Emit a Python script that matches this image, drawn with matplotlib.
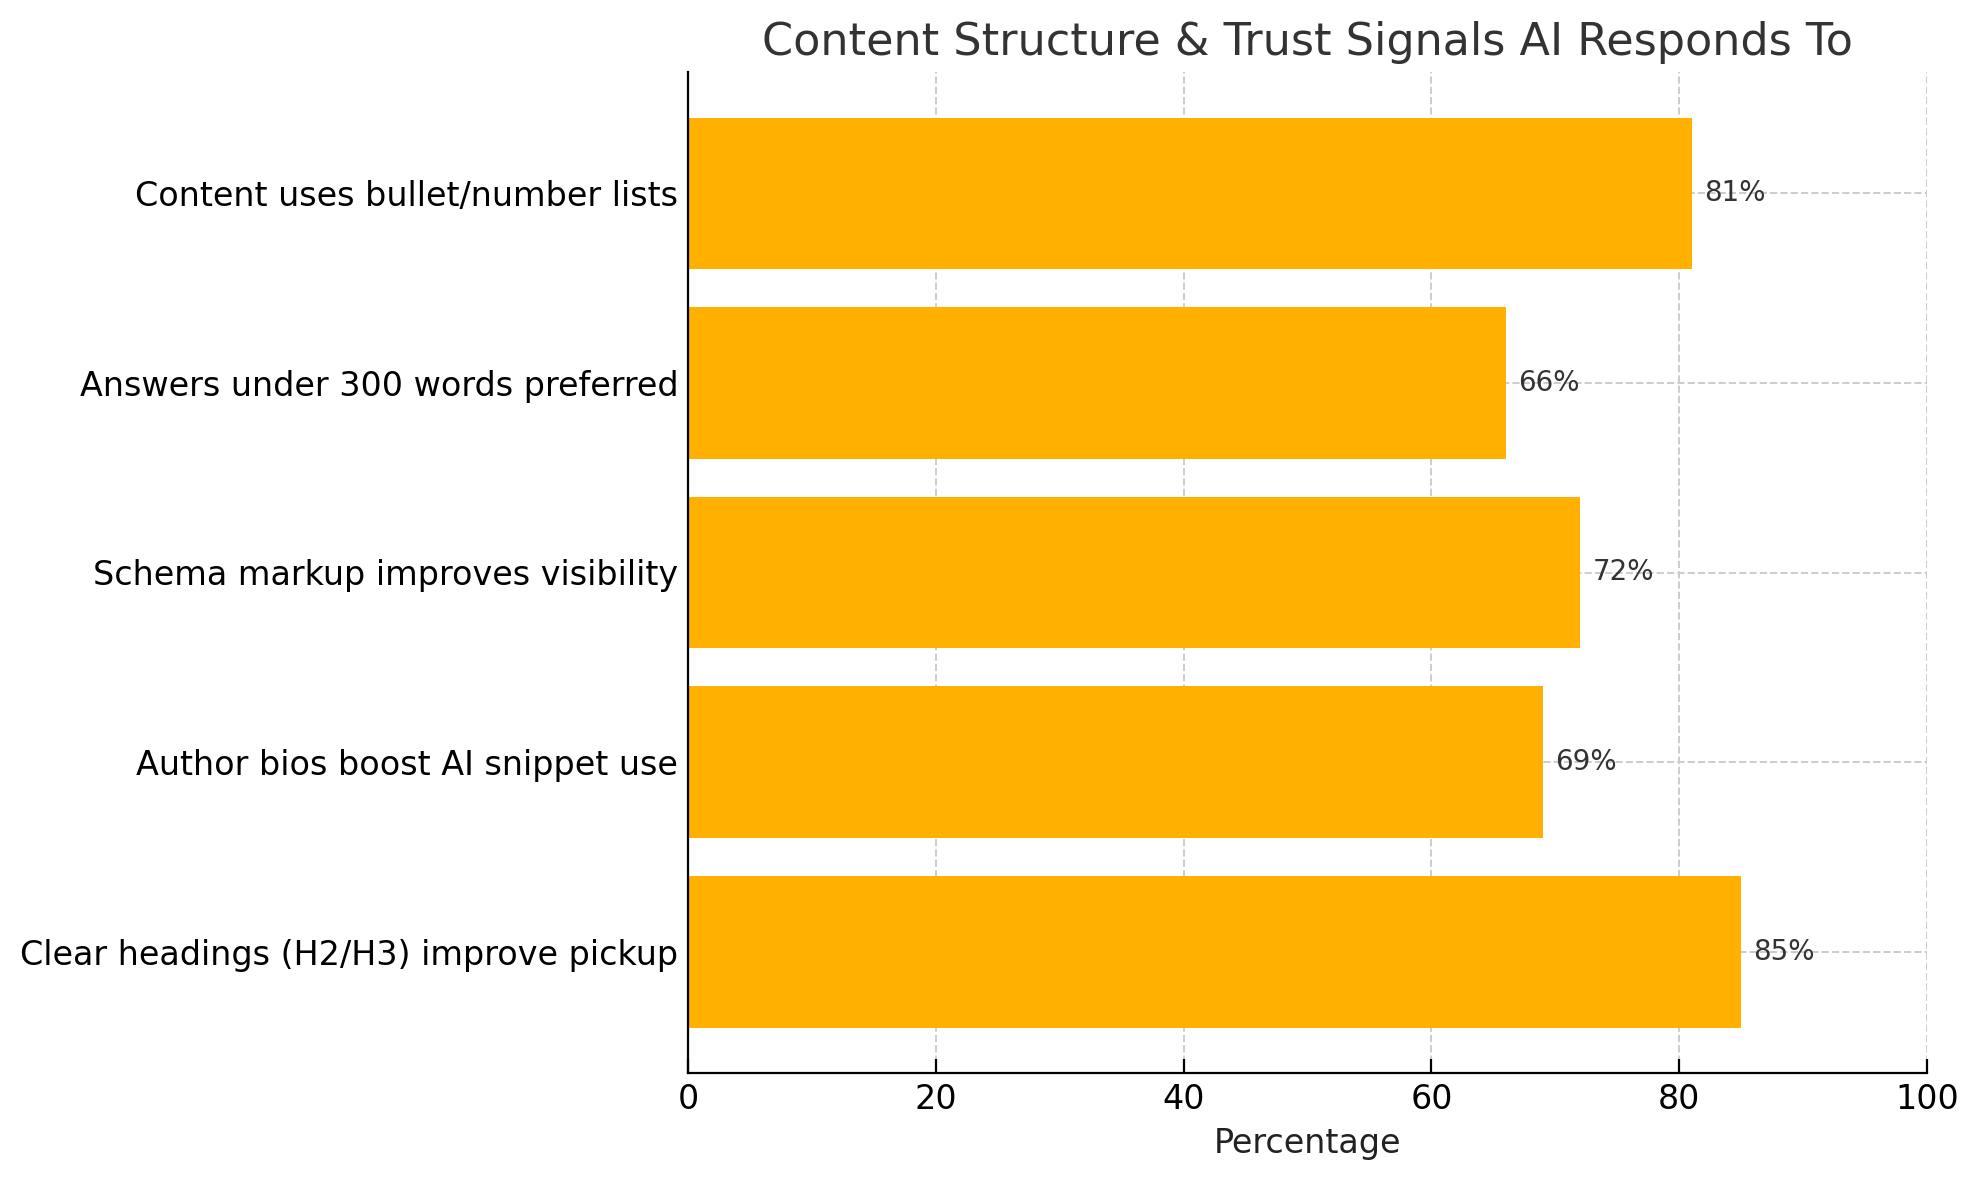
import numpy as np
import matplotlib
matplotlib.use("Agg")
import matplotlib.pyplot as plt

categories = ["Clear headings (H2/H3) improve pickup",
              "Author bios boost AI snippet use",
              "Schema markup improves visibility",
              "Answers under 300 words preferred",
              "Content uses bullet/number lists"]
values = [85, 69, 72, 66, 81]

fig = plt.figure(figsize=(9.895, 5.9), dpi=200)
ax = fig.add_axes([688 / 1979, 1 - 1073 / 1180, (1927 - 688) / 1979, (1073 - 72) / 1180])

bars = ax.barh(categories, values, color="#FFB000", height=0.8, zorder=2)
for b, v in zip(bars, values):
    ax.text(b.get_width() + 1, b.get_y() + b.get_height() / 2, f"{v}%",
            va="center", ha="left", fontsize=10, color="#333333")

ax.set_xlim(0, 100)
ax.set_title("Content Structure & Trust Signals AI Responds To", fontsize=16, color="#333333")
ax.set_xlabel("Percentage", fontsize=12, color="#222222")
ax.tick_params(axis="both", labelsize=12, direction="in", length=5)
ax.grid(True, linestyle="--", color="#cccccc", linewidth=0.7, zorder=0)
ax.set_axisbelow(True)
for s in ["top", "right"]:
    ax.spines[s].set_visible(False)

fig.savefig("out.png", dpi=200)
